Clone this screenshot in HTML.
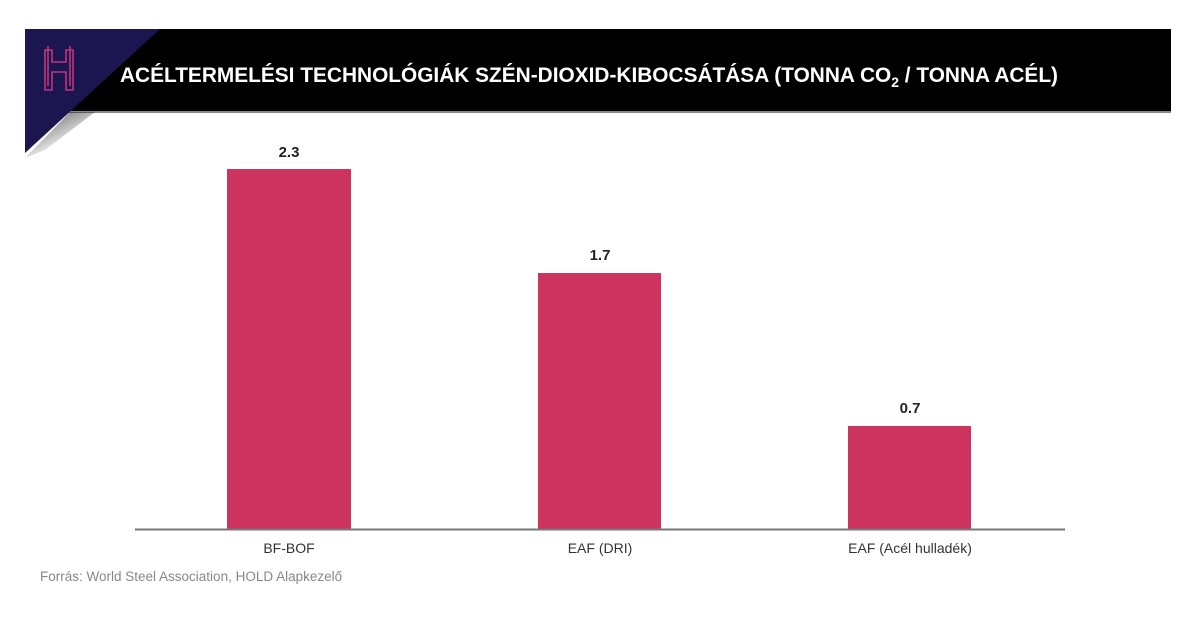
<!DOCTYPE html>
<html><head><meta charset="utf-8"><style>
html,body{margin:0;padding:0;background:#fff;}
svg{display:block;}
</style></head><body>
<svg width="1191" height="622" xmlns="http://www.w3.org/2000/svg" font-family="Liberation Sans, sans-serif">
<defs>
<linearGradient id="sh" x1="0" y1="0" x2="0.6" y2="0.8">
<stop offset="0" stop-color="#000" stop-opacity="0.7"/><stop offset="1" stop-color="#000" stop-opacity="0"/>
</linearGradient>
</defs>
<rect x="25" y="29" width="1146" height="83" fill="#000"/>
<rect x="25" y="111" width="1146" height="2" fill="#888"/>
<polygon points="70,112 95,112 45,150 25,158" fill="url(#sh)"/>
<polygon points="25,29 160,29 25,153" fill="#1c1650"/>
<g fill="none" stroke="#c0357a" stroke-width="1.6">
<path d="M45,50 V90 H52 V72 H66 V90 H73 V50 H66 V62 H52 V50 Z"/>
<path d="M48,46 V86 M70,46 V86"/>
</g>
<text x="120" y="82" fill="#fff" font-size="21" font-weight="bold" textLength="938" lengthAdjust="spacingAndGlyphs">ACÉLTERMELÉSI TECHNOLÓGIÁK SZÉN-DIOXID-KIBOCSÁTÁSA (TONNA CO<tspan font-size="14" dy="5">2</tspan><tspan dy="-5"> / TONNA ACÉL)</tspan></text>
<rect x="227" y="169" width="124" height="361" fill="#cc335f"/>
<rect x="538" y="273" width="123" height="257" fill="#cc335f"/>
<rect x="848" y="426" width="123" height="104" fill="#cc335f"/>
<line x1="135" y1="529.5" x2="1065" y2="529.5" stroke="#777" stroke-width="2"/>
<g font-size="15" font-weight="bold" fill="#222" text-anchor="middle">
<text x="289" y="157">2.3</text>
<text x="600" y="260">1.7</text>
<text x="910" y="413">0.7</text>
</g>
<g font-size="14" fill="#333" text-anchor="middle">
<text x="289" y="553">BF-BOF</text>
<text x="600" y="553">EAF (DRI)</text>
<text x="910" y="553">EAF (Acél hulladék)</text>
</g>
<text x="40" y="581" font-size="13.5" fill="#888">Forrás: World Steel Association, HOLD Alapkezelő</text>
</svg>
</body></html>
